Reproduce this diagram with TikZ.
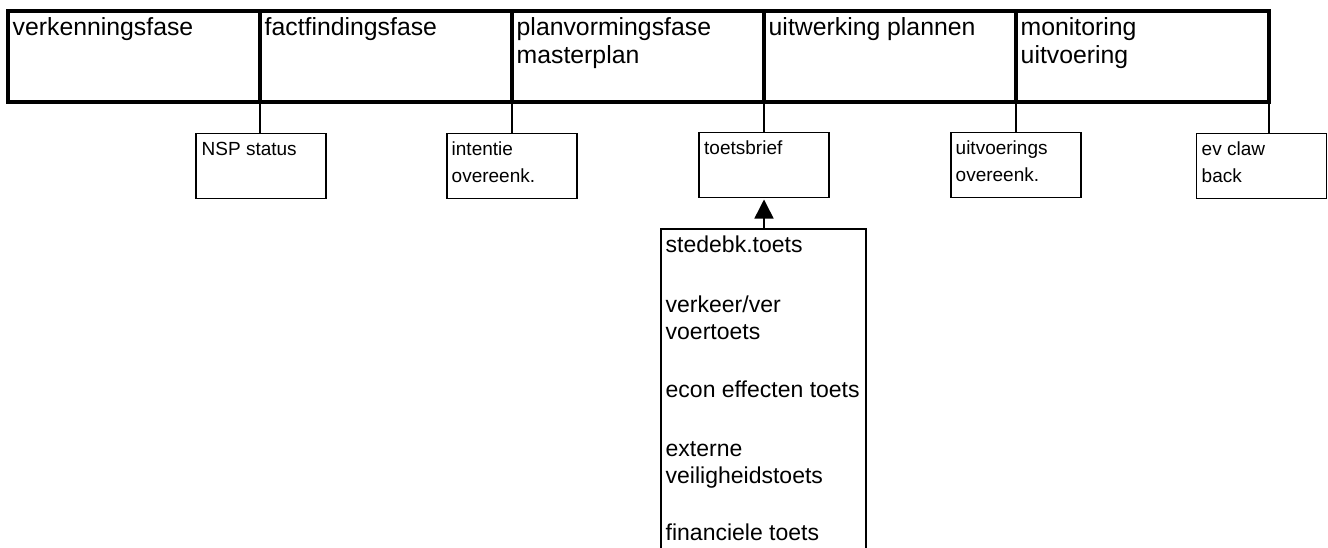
\documentclass[tikz,border=0pt]{standalone}
\usepackage{fontspec}
\setmainfont{Liberation Sans}
\usetikzlibrary{arrows.meta}
\begin{document}
\begin{tikzpicture}[x=1pt,y=-1pt,
  cell/.style={draw, line width=3.5pt, minimum height=91pt, inner sep=0pt, outer sep=0pt},
  docbox/.style={draw, line width=1.8pt, minimum width=130pt, minimum height=65pt, inner sep=0pt, outer sep=0pt},
  conn/.style={line width=1.5pt},
  toptext/.style={anchor=base west, inner sep=0pt, align=left, font=\fontsize{24.8}{28}\selectfont},
  boxtext/.style={anchor=base west, inner sep=0pt, align=left, font=\fontsize{19}{27}\selectfont},
  talltext/.style={anchor=base west, inner sep=0pt, align=left, font=\fontsize{23}{27}\selectfont}]
\useasboundingbox (0,0) rectangle (1328,547);
\clip (0,0) rectangle (1328,547);
% phases
\node[cell, minimum width=252pt] (c1) at (134,56.5) {};
\node[cell, minimum width=252pt] (c2) at (386,56.5) {};
\node[cell, minimum width=252pt] (c3) at (638,56.5) {};
\node[cell, minimum width=252pt] (c4) at (890,56.5) {};
\node[cell, minimum width=253pt] (c5) at (1142.5,56.5) {};
% (multi-line nodes: anchor on the last line's baseline)
\node[toptext] (t1) at (12.5,35) {verkenningsfase};
\node[toptext] (t2) at (264.5,35) {factfindingsfase};
\node[toptext] (t3) at (516.5,63) {planvormingsfase\\masterplan};
\node[toptext] (t4) at (768.5,35) {uitwerking plannen};
\node[toptext] (t5) at (1020.5,63) {monitoring\\uitvoering};
% documents
\node[docbox] (nsp) at (261,166) {};
\node[docbox] (int) at (512,166) {};
\node[docbox] (toe) at (764,165) {};
\node[docbox] (uit) at (1016,165) {};
\node[docbox] (ev) at (1261.5,166) {};
\node[boxtext] (nspt) at (201.5,155) {NSP status};
\node[boxtext] (intt) at (451.5,182) {intentie\\overeenk.};
\node[boxtext] (toet) at (704,154) {toetsbrief};
\node[boxtext] (uitt) at (955.5,181) {uitvoerings\\overeenk.};
\node[boxtext] (evt) at (1201.5,182) {ev claw\\back};
% connectors
\draw[conn] (c1.south east) -- (c1.south east |- nsp.north);
\draw[conn] (c2.south east) -- (c2.south east |- int.north);
\draw[conn] (c3.south east) -- (c3.south east |- toe.north);
\draw[conn] (c4.south east) -- (c4.south east |- uit.north);
\draw[conn] (c5.south east) -- (c5.south east |- ev.north);
% tests
\node[draw, line width=1.8pt, minimum width=205pt, minimum height=331pt, inner sep=0pt, outer sep=0pt] (tests) at (763.5,394.5) {};
\node[talltext] (testt) at (665.5,540) {stedebk.toets\\[33pt]verkeer/ver\\voertoets\\[31pt]econ effecten toets\\[32pt]externe\\veiligheidstoets\\[30pt]financiele toets};
\draw[conn, -{Triangle[width=19pt,length=19pt]}, shorten >=2pt] (tests.north -| toe.south) -- (toe.south);
\end{tikzpicture}
\end{document}
